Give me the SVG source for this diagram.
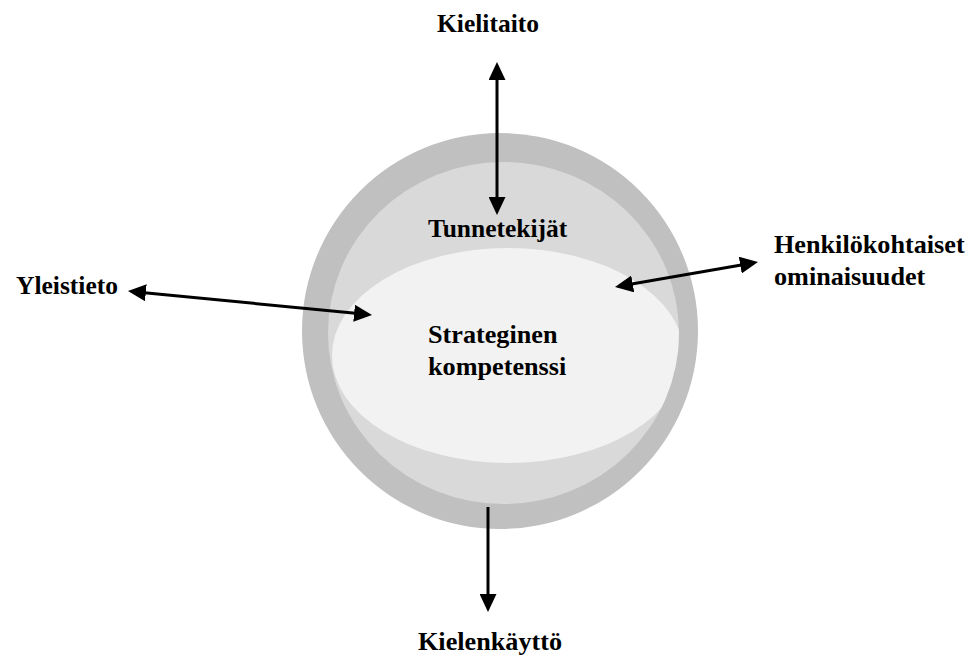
<svg xmlns="http://www.w3.org/2000/svg" width="967" height="656" viewBox="0 0 967 656">
<style>
  .lbl { font-family: "Liberation Serif", "Times New Roman", serif; font-weight: bold; font-size: 25.5px; fill: #000; }
  .big { font-size: 26.2px; }
  .conn { stroke: #000; stroke-width: 3; fill: none; }
</style>
<defs>
  <marker id="ah" markerUnits="userSpaceOnUse" markerWidth="18" markerHeight="17" refX="4" refY="8.5" orient="auto-start-reverse" viewBox="0 0 18 17">
    <path d="M0,0 L18,8.5 L0,17 z" fill="#000"/>
  </marker>
  <clipPath id="innerClip">
    <ellipse cx="503.5" cy="333" rx="175.5" ry="171"/>
  </clipPath>
</defs>
<rect width="967" height="656" fill="#fff"/>
<g id="outer">
  <ellipse cx="500" cy="331" rx="198" ry="198" fill="#c0c0c0"/>
</g>
<g id="tunnetekijat">
  <ellipse cx="503.5" cy="333" rx="175.5" ry="171" fill="#d9d9d9"/>
  <text class="lbl" x="428" y="237">Tunnetekijät</text>
</g>
<g id="strateginen">
  <ellipse cx="508" cy="355.5" rx="176" ry="107.5" fill="#f2f2f2" clip-path="url(#innerClip)"/>
  <text class="lbl big" x="428" y="343">Strateginen</text>
  <text class="lbl big" x="428" y="375">kompetenssi</text>
</g>
<g id="kielitaito">
  <text class="lbl" x="488" y="32" text-anchor="middle">Kielitaito</text>
</g>
<g id="yleistieto">
  <text class="lbl" x="16" y="294">Yleistieto</text>
</g>
<g id="henkilokohtaiset">
  <text class="lbl big" x="774" y="253">Henkilökohtaiset</text>
  <text class="lbl big" x="774" y="285">ominaisuudet</text>
</g>
<g id="kielenkaytto">
  <text class="lbl big" x="418" y="650">Kielenkäyttö</text>
</g>
<g id="connectors">
  <line class="conn" x1="497" y1="76" x2="497" y2="201" marker-start="url(#ah)" marker-end="url(#ah)"/>
  <line class="conn" x1="488" y1="507" x2="488" y2="598" marker-end="url(#ah)"/>
  <line class="conn" x1="141.9" y1="292.4" x2="358.1" y2="313.6" marker-start="url(#ah)" marker-end="url(#ah)"/>
  <line class="conn" x1="628.8" y1="284.6" x2="744.2" y2="264.4" marker-start="url(#ah)" marker-end="url(#ah)"/>
</g>
</svg>
